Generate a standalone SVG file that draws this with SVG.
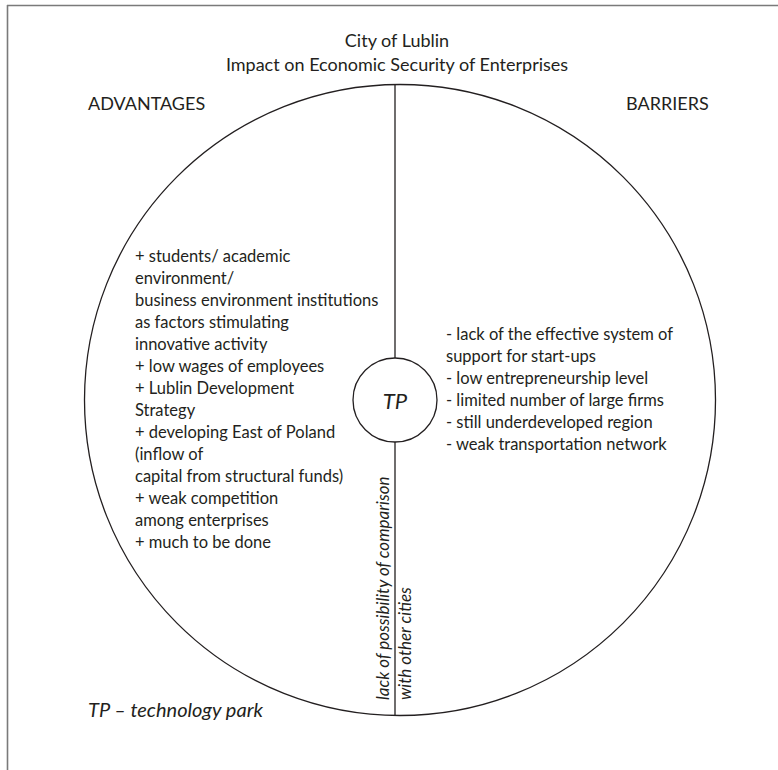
<svg xmlns="http://www.w3.org/2000/svg" width="778" height="770" viewBox="0 0 778 770">
<style>
text { font-family: Lato, "Open Sans", sans-serif; fill: #231f20; }
.t { font-size: 18px; text-anchor: middle; }
.h { font-size: 18px; }
.b { font-size: 16.5px; }
.i { font-style: italic; }
.ln { stroke: #231f20; stroke-width: 1.3; fill: none; }
</style>
<rect x="0" y="0" width="778" height="770" fill="#ffffff"/>
<g id="frame">
<line x1="7" y1="5.5" x2="778" y2="5.5" stroke="#7a7a7a" stroke-width="1.6"/>
<line x1="7.5" y1="5" x2="7.5" y2="770" stroke="#7a7a7a" stroke-width="1.6"/>
</g>
<g id="title">
<text class="t" x="397" y="47">City of Lublin</text>
<text class="t" x="397" y="71">Impact on Economic Security of Enterprises</text>
</g>
<g id="headers">
<text class="h" x="88" y="110">ADVANTAGES</text>
<text class="h" x="626" y="110">BARRIERS</text>
</g>
<g id="city-circle">
<circle class="ln" cx="400" cy="400" r="315.5"/>
</g>
<g id="connectors">
<line class="ln" x1="395" y1="84.5" x2="395" y2="358"/>
<line class="ln" x1="395" y1="442" x2="395" y2="715.5"/>
</g>
<g id="tp">
<circle class="ln" cx="395" cy="400" r="42" fill="#ffffff"/>
<text class="i" x="395" y="409" font-size="22" text-anchor="middle">TP</text>
</g>
<g id="advantages" class="b">
<text x="135" y="262">+ students/ academic</text>
<text x="135" y="284">environment/</text>
<text x="135" y="306">business environment institutions</text>
<text x="135" y="328">as factors stimulating</text>
<text x="135" y="350">innovative activity</text>
<text x="135" y="372">+ low wages of employees</text>
<text x="135" y="394">+ Lublin Development</text>
<text x="135" y="416">Strategy</text>
<text x="135" y="438">+ developing East of Poland</text>
<text x="135" y="460">(inflow of</text>
<text x="135" y="482">capital from structural funds)</text>
<text x="135" y="504">+ weak competition</text>
<text x="135" y="526">among enterprises</text>
<text x="135" y="548">+ much to be done</text>
</g>
<g id="barriers" class="b">
<text x="446" y="340">- lack of the effective system of</text>
<text x="446" y="362">support for start-ups</text>
<text x="446" y="384">- low entrepreneurship level</text>
<text x="446" y="406">- limited number of large firms</text>
<text x="446" y="428">- still underdeveloped region</text>
<text x="446" y="450">- weak transportation network</text>
</g>
<g id="comparison">
<text class="i" font-size="17" transform="translate(389,700) rotate(-90)">lack of possibility of comparison</text>
<text class="i" font-size="17" transform="translate(411,700) rotate(-90)">with other cities</text>
</g>
<g id="legend">
<text class="i" x="88" y="717" font-size="20">TP – technology park</text>
</g>
</svg>
